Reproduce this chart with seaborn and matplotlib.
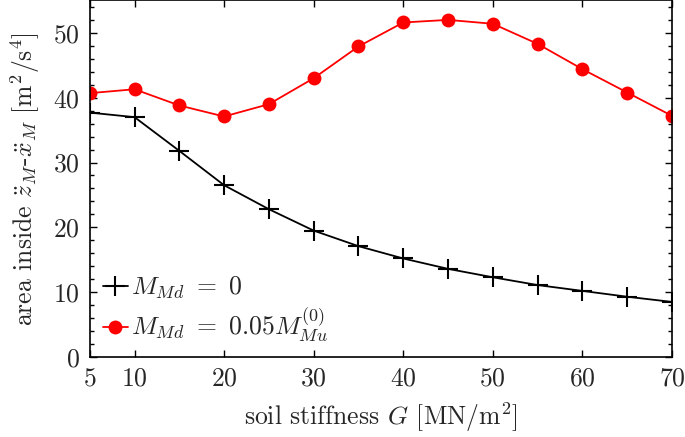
import numpy as np
import pandas as pd
import matplotlib
matplotlib.use("Agg")
import matplotlib.pyplot as plt
from matplotlib.ticker import MultipleLocator, FixedLocator
import seaborn as sns

# soil stiffness G [MN/m^2]
stiffness = [5, 10, 15, 20, 25, 30, 35, 40, 45, 50, 55, 60, 65, 70]
# area inside loop, M_Md = 0
area_zero = [37.7, 37.0, 31.8, 26.5, 22.8, 19.5, 17.1, 15.2, 13.6, 12.3, 11.1, 10.2, 9.3, 8.5]
# area inside loop, M_Md = 0.05 M_Mu^(0)
area_red = [40.7, 41.3, 38.8, 37.1, 39.0, 43.0, 47.9, 51.6, 52.0, 51.4, 48.3, 44.4, 40.8, 37.2]

x_ticks = [5, 10, 20, 30, 40, 50, 60, 70]

sns.set_theme(style="ticks")
plt.rcParams["font.family"] = ["serif"]
plt.rcParams["font.serif"] = ["cmr10", "DejaVu Serif"]
plt.rcParams["mathtext.fontset"] = "cm"
plt.rcParams["axes.formatter.use_mathtext"] = True

df = pd.DataFrame({"G": stiffness * 2,
                   "area": area_zero + area_red,
                   "case": ["zero"] * len(stiffness) + ["red"] * len(stiffness)})

fig, ax = plt.subplots(figsize=(6.85, 4.37), dpi=100)
fig.subplots_adjust(left=0.131, right=0.981, bottom=0.183, top=0.999)

sns.lineplot(data=df[df["case"] == "zero"], x="G", y="area", ax=ax, color="black",
             marker="+", markersize=14, markeredgewidth=1.5, markeredgecolor="black",
             linewidth=1.3, label=r"$M_{Md}\ =\ 0$")
sns.lineplot(data=df[df["case"] == "red"], x="G", y="area", ax=ax, color="#ff0000",
             marker="o", markersize=10, markeredgewidth=0, linewidth=1.3,
             label=r"$M_{Md}\ =\ 0.05M_{Mu}^{(0)}$")

ax.set_xlim(5, 70)
ax.set_ylim(0, 55)
ax.xaxis.set_major_locator(FixedLocator(x_ticks))
ax.yaxis.set_major_locator(MultipleLocator(10))
ax.yaxis.set_minor_locator(MultipleLocator(2))
ax.tick_params(which="both", direction="in", top=True, right=True, labelsize=18.5,
               color="black", width=1.0, pad=7)
ax.tick_params(which="major", length=5)
ax.tick_params(which="minor", length=3)
for s in ax.spines.values():
    s.set_linewidth(1.2)
    s.set_color("black")

ax.set_xlabel(r"soil stiffness $G$ [MN/m$^2$]", fontsize=18.5, labelpad=7)
ax.set_ylabel(r"area inside $\ddot{z}_M$-$\ddot{x}_M$ [m$^2$/s$^4$]", fontsize=18.5, labelpad=8)

ax.legend(loc="lower left", frameon=False, fontsize=18.5, handlelength=1.0,
          handletextpad=0.1, borderaxespad=0.1, labelspacing=0.2)

fig.savefig("out.png", dpi=100)
